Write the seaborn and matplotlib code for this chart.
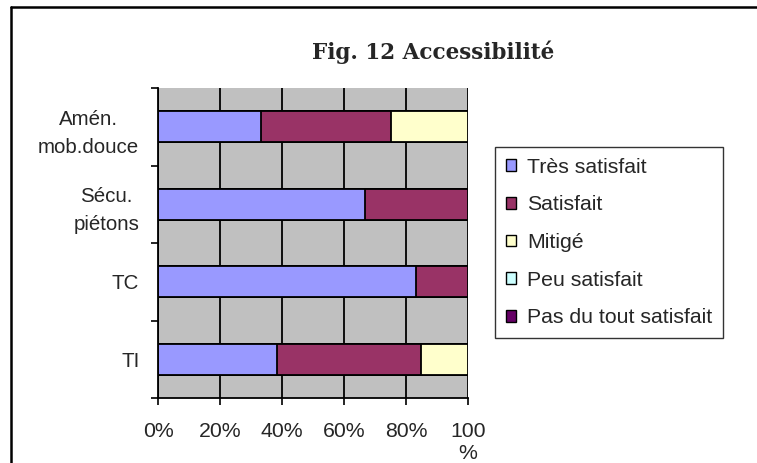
import numpy as np
import pandas as pd
import matplotlib
matplotlib.use("Agg")
import matplotlib.pyplot as plt
from matplotlib.lines import Line2D
from matplotlib.patches import Patch
import seaborn as sns

# Survey results (% of respondents) per topic
categories = ["Amén.\nmob.douce", "Sécu.\npiétons", "TC", "TI"]
tres_satisfait = [33.3, 66.7, 83.3, 38.5]
satisfait = [41.7, 33.3, 16.7, 46.2]
mitige = [25.0, 0.0, 0.0, 15.3]
peu_satisfait = [0.0, 0.0, 0.0, 0.0]
pas_du_tout = [0.0, 0.0, 0.0, 0.0]

series_names = ["Très satisfait", "Satisfait", "Mitigé", "Peu satisfait",
                "Pas du tout satisfait"]
series_values = [tres_satisfait, satisfait, mitige, peu_satisfait, pas_du_tout]
series_colors = ["#9999FF", "#993366", "#FFFFCC", "#CCFFFF", "#660066"]

x_ticks = [0, 20, 40, 60, 80, 100]
x_ticklabels = ["0%", "20%", "40%", "60%", "80%", "100\n%"]

sns.set_theme(style="white")
plt.rcParams["font.family"] = ["Liberation Sans", "DejaVu Sans"]

FS = 15.3
W, H = 757, 463
fig = plt.figure(figsize=(W / 100, H / 100), dpi=100)
ax = fig.add_axes([158 / W, 1 - 398 / H, 310 / W, 310 / H])
ax.set_facecolor("#C0C0C0")

# Stacked bars: draw cumulative totals from the last series back to the first
cum = np.cumsum(np.array(series_values), axis=0)
for i in reversed(range(len(series_names))):
    df = pd.DataFrame({"cat": categories, "val": cum[i]})
    sns.barplot(data=df, x="val", y="cat", color=series_colors[i],
                saturation=1, width=0.4, edgecolor="black", linewidth=1.3,
                orient="y", ax=ax, zorder=3)

ax.set_xlim(0, 100)
ax.set_ylim(3.5, -0.5)
ax.set_xlabel("")
ax.set_ylabel("")

# Vertical gridlines
for xv in x_ticks:
    ax.axvline(xv, color="black", lw=1.3, zorder=1)

for s in ["top", "right"]:
    ax.spines[s].set_visible(False)
for s in ["left", "bottom"]:
    ax.spines[s].set_color("black")
    ax.spines[s].set_linewidth(1.3)
    ax.spines[s].set_zorder(4)

ax.set_xticks(x_ticks)
ax.set_xticklabels(x_ticklabels, fontsize=FS, linespacing=1.25)
ax.tick_params(axis="x", direction="out", length=5, width=1.2, color="black",
               pad=12, bottom=True)

# Category labels sit between tick marks placed at the category boundaries
ax.set_yticks(np.arange(-0.5, 4, 1.0))
ax.set_yticklabels([])
ax.set_yticks(np.arange(len(categories)), minor=True)
ax.set_yticklabels(categories, minor=True, fontsize=FS - 0.5,
                   multialignment="center", linespacing=1.6)
ax.tick_params(axis="y", which="major", direction="out", length=5, width=1.2,
               color="black", left=True)
ax.tick_params(axis="y", which="minor", length=0, pad=13.5)

# Legend
handles = [Patch(facecolor=c, edgecolor="black", linewidth=1.0)
           for c in series_colors]
leg = fig.legend(handles, series_names, loc="upper left",
                 bbox_to_anchor=(495 / W, 1 - 147 / H),
                 fontsize=FS, frameon=True, fancybox=False,
                 edgecolor="black", handlelength=0.47, handleheight=0.47,
                 handletextpad=0.55, labelspacing=0.88, borderpad=0.5,
                 borderaxespad=0)
leg.get_frame().set_linewidth(1.0)

# Title
fig.text(433 / W, 1 - 52 / H, "Fig. 12 Accessibilité", ha="center",
         va="center", fontsize=15.5, fontweight="bold",
         family=["DejaVu Serif"])

# Chart frame
fig.add_artist(Line2D([11 / W, 11 / W], [0, 1 - 7 / H], color="black",
                      lw=1.8, transform=fig.transFigure))
fig.add_artist(Line2D([11 / W, 1], [1 - 7 / H, 1 - 7 / H], color="black",
                      lw=1.8, transform=fig.transFigure))

fig.savefig("out.png", dpi=100, facecolor="white")
